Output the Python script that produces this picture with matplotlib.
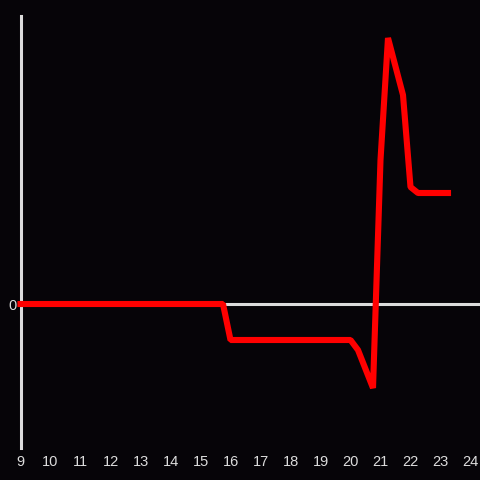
import matplotlib
matplotlib.use("Agg")
import matplotlib.pyplot as plt

hours = [9, 15.75, 16.0, 20.0, 20.25, 20.75, 21.0, 21.25, 21.75, 22.0, 22.25, 23.25]
values = [0, 0, -3.6, -3.6, -4.6, -8.4, 14.4, 26.6, 20.9, 11.7, 11.1, 11.1]
xticks = list(range(9, 25))
yticks = [0]

bg = "#060408"
fg = "#dcdcdc"

plt.rcParams['font.family'] = ['Liberation Sans', 'DejaVu Sans']

fig = plt.figure(figsize=(4.8, 4.8), dpi=100, facecolor=bg)
ax = fig.add_axes([20.5/480, 32/480, 1 - 20.5/480, 432/480], facecolor=bg)

ax.axhline(0, color=fg, lw=2.2, zorder=1)
ax.plot(hours, values, color="#ff0000", lw=4.4, solid_joinstyle="bevel",
        solid_capstyle="projecting", zorder=3, clip_on=False)

ax.set_xlim(9, 9 + 459.5/30)
ax.set_ylim(-14.4, 28.8)
ax.set_xticks(xticks)
ax.set_xticklabels([str(t) for t in xticks])
ax.set_yticks(yticks)
ax.set_yticklabels(["0"])
ax.tick_params(axis='both', length=0, colors=fg, labelsize=10.5)
ax.tick_params(axis='x', pad=5)
ax.tick_params(axis='y', pad=3)

for s in ['top', 'right', 'bottom']:
    ax.spines[s].set_visible(False)
ax.spines['left'].set_color(fg)
ax.spines['left'].set_linewidth(2.2)
ax.spines['left'].set_zorder(2)

fig.savefig("out.png", dpi=100, facecolor=bg)
